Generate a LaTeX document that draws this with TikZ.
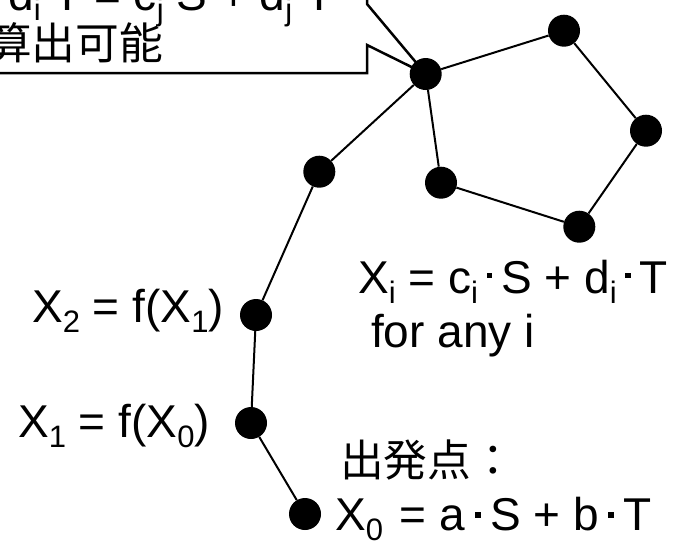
\documentclass[tikz,border=0pt]{standalone}
\usepackage{fontspec}
\setmainfont{Liberation Sans}
\newfontfamily\cjk[Scale=0.95]{Noto Sans CJK JP}
\usetikzlibrary{backgrounds}
\newcommand\sbs[1]{\raisebox{-10pt}{\fontsize{31}{31}\selectfont #1}}
\newcommand\sqd[1][23pt]{\makebox[#1]{\rule[15pt]{5.5pt}{5.5pt}}}
\newcommand\sqdlow{\makebox[25pt]{\rule[12pt]{6pt}{6pt}}}
\begin{document}
\begin{tikzpicture}[x=1pt,y=-1pt,
  dotnode/.style={circle,fill=black,minimum size=32pt,inner sep=0pt},
  edge/.style={line width=2pt},
  lbl/.style={anchor=base west,inner sep=0pt,font=\fontsize{46}{55}\selectfont},
  callout/.style={draw=black,line width=2.5pt,fill=white,line join=miter}]
\useasboundingbox (0,0) rectangle (684,542);
% points
\node[dotnode] (hub) at (425.7,74) {};
\node[dotnode] (tr) at (564,30.7) {};
\node[dotnode] (rr) at (646,130.7) {};
\node[dotnode] (br) at (579.3,226.7) {};
\node[dotnode] (inn) at (441,182.7) {};
\node[dotnode] (ll) at (319.3,171.7) {};
\node[dotnode] (x2) at (256,315) {};
\node[dotnode] (x1) at (251,423) {};
\node[dotnode] (x0) at (305,514) {};
\begin{scope}[on background layer]
\draw[callout] (-40,-90) -- (367,-90) -- (367,4) -- (hub.center) -- (367,45) -- (367,73) -- (-40,73) -- cycle;
\draw[edge] (hub) -- (tr);
\draw[edge] (tr) -- (rr);
\draw[edge] (rr) -- (br);
\draw[edge] (br) -- (inn);
\draw[edge] (inn) -- (hub);
\draw[edge] (hub) -- (ll);
\draw[edge] (ll) -- (x2);
\draw[edge] (x2) -- (x1);
\draw[edge] (x1) -- (x0);
\end{scope}
% labels
\node[lbl] (t1) at (8,10) {d\sbs{i}\sqd[12.8pt]T = c\sbs{j}\sqd[12.8pt]S + d\sbs{j}\sqd[12.8pt]T};
\node[lbl] (t2) at (-12,59) {\cjk 算出可能};
\node[lbl] (xi) at (358,293) {X\sbs{i} = c\sbs{i}\sqd S + d\sbs{i}\sqd T};
\node[lbl] (any) at (371,347) {for any i};
\node[lbl] (l2) at (32,322) {X\sbs{2} = f(X\sbs{1})};
\node[lbl] (l1) at (18,437) {X\sbs{1} = f(X\sbs{0})};
\node[lbl] (start) at (340,476) {\cjk 出発点：};
\node[lbl] (l0) at (335,530) {X\sbs{0}\hspace{4pt} = a\sqdlow S + b\sqdlow T};
\end{tikzpicture}
\end{document}
